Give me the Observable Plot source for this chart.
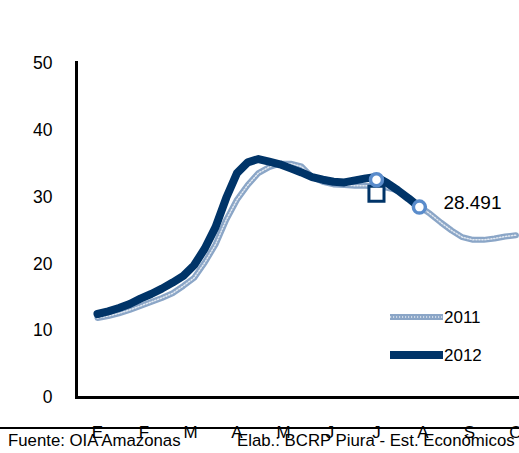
<!DOCTYPE html>
<html><head><meta charset="utf-8">
<script src="https://cdn.jsdelivr.net/npm/d3@7"></script>
<script src="https://cdn.jsdelivr.net/npm/@observablehq/plot@0.6"></script>
<style>
body{margin:0;background:#fff;}
#wrap{position:relative;width:519px;height:453px;font-family:"Liberation Sans",Arial,sans-serif;overflow:hidden;}
#sep{position:absolute;left:0;top:427px;width:519px;height:2px;background:#000;}
.cap{position:absolute;top:432px;font-size:16.8px;color:#000;white-space:nowrap;line-height:17px;}
#legend{position:absolute;left:0;top:0;}
</style></head>
<body>
<div id="wrap"></div>
<script>
// Month tick labels (Spanish initials)
const monthLabels = ["E","F","M","A","M","J","J","A","S","O"];
// Weekly values, index = week of year starting at 0
const values2011 = [11.9,12.2,12.6,13.1,13.7,14.3,14.9,15.6,16.7,17.9,20.2,22.9,26.6,29.6,31.8,33.6,34.5,35.0,35.0,34.6,33.0,32.3,31.9,31.8,31.7,31.7,31.6,31.4,31.0,29.9,28.6,27.5,26.2,25.0,24.0,23.6,23.6,23.8,24.1,24.3];
const values2012 = [12.5,12.9,13.4,14.0,14.8,15.5,16.3,17.2,18.2,19.8,22.3,25.5,29.9,33.6,35.2,35.7,35.3,34.9,34.3,33.7,33.0,32.6,32.3,32.2,32.5,32.8,33.0,32.1,31.0,29.8,28.5];
const seriesNames = ["2011","2012"];
const lastLabel = "28.491";
// highlighted points
const circleWeeks = [26, 30];
const circleValues = [32.6, 28.5];
const squareWeeks = [26];
const squareValues = [30.5];
const yTicks = [0,10,20,30,40,50];

const d2011 = values2011.map((v,i)=>({w:i, v}));
const d2012 = values2012.map((v,i)=>({w:i, v}));
const circles = circleWeeks.map((w,i)=>({w, v:circleValues[i]}));
const squares = squareWeeks.map((w,i)=>({w, v:squareValues[i]}));
const last = d2012[d2012.length-1];
const xDomain = [-2.05, 39.33];

const c2011 = "#8ba6c7";
const c2012 = "#003468";
const cCircle = "#5a8ccb";

const chart = Plot.plot({
  width: 519, height: 453,
  marginLeft: 75, marginRight: 0, marginTop: 63, marginBottom: 56,
  style: {fontFamily: "'Liberation Sans', Arial, sans-serif", fontSize: "17px", color: "#000", background: "transparent"},
  x: {domain: xDomain},
  y: {domain: [0, 50]},
  marks: [
    Plot.axisY({ticks: yTicks, tickSize: 0, tickPadding: 23, label: null, fontSize: 17.5}),
    Plot.axisX({ticks: monthLabels.map((_, i) => i * 52 / 12), tickFormat: (d, i) => monthLabels[i], tickSize: 0, tickPadding: 28, label: null, fontSize: 17}),
    Plot.line(d2011, {x: "w", y: "v", stroke: c2011, strokeWidth: 6, strokeLinejoin: "round"}),
    Plot.line(d2011, {x: "w", y: "v", stroke: "#fff", strokeWidth: 1.5, strokeDasharray: "1.2,1.8", strokeOpacity: 0.75}),
    Plot.line(d2012, {x: "w", y: "v", stroke: c2012, strokeWidth: 8, strokeLinejoin: "round", strokeLinecap: "round"}),
    Plot.dot(squares, {x: "w", y: "v", symbol: "square", r: 8.5, stroke: c2012, strokeWidth: 3, fill: "#fff"}),
    Plot.dot(circles, {x: "w", y: "v", r: 6, stroke: cCircle, strokeWidth: 3.5, fill: "#fff"}),
    Plot.text([last], {x: "w", y: "v", text: () => lastLabel, dx: 24, dy: -4, textAnchor: "start", fontSize: 19, fill: "#000"}),
    Plot.ruleY([0], {stroke: "#000", strokeWidth: 3}),
    Plot.ruleX([xDomain[0]], {y1: 0, y2: 50.3, stroke: "#000", strokeWidth: 3, dx: 1})
  ]
});

const wrap = document.getElementById("wrap");
wrap.appendChild(chart);
chart.style.position = "absolute"; chart.style.left = "0"; chart.style.top = "0";

// separator line and source caption
const sep = document.createElement("div"); sep.id = "sep"; wrap.appendChild(sep);
const cap1 = document.createElement("div"); cap1.className = "cap"; cap1.style.left = "8px"; cap1.textContent = "Fuente: OIA Amazonas"; wrap.appendChild(cap1);
const cap2 = document.createElement("div"); cap2.className = "cap"; cap2.style.left = "237px"; cap2.textContent = "Elab.: BCRP Piura - Est. Económicos"; wrap.appendChild(cap2);

// legend
const ns = "http://www.w3.org/2000/svg";
const leg = document.createElementNS(ns, "svg");
leg.setAttribute("id", "legend"); leg.setAttribute("width", 519); leg.setAttribute("height", 453);
const legendItems = [
  {name: seriesNames[0], y: 317, draw: (g, y) => {
    g.insertAdjacentHTML("beforeend", `<line x1="390" x2="443" y1="${y}" y2="${y}" stroke="${c2011}" stroke-width="6"/><line x1="390" x2="443" y1="${y}" y2="${y}" stroke="#fff" stroke-width="1.5" stroke-dasharray="1.2,1.8" stroke-opacity="0.75"/>`);
  }},
  {name: seriesNames[1], y: 355, draw: (g, y) => {
    g.insertAdjacentHTML("beforeend", `<line x1="390" x2="443" y1="${y}" y2="${y}" stroke="${c2012}" stroke-width="8"/>`);
  }}
];
for (const it of legendItems) {
  it.draw(leg, it.y);
  const t = document.createElementNS(ns, "text");
  t.setAttribute("x", 444); t.setAttribute("y", it.y); t.setAttribute("dy", "0.35em");
  t.setAttribute("font-size", "17"); t.setAttribute("font-family", "'Liberation Sans', Arial, sans-serif");
  t.textContent = it.name; leg.appendChild(t);
}
wrap.appendChild(leg);
</script>
</body></html>
